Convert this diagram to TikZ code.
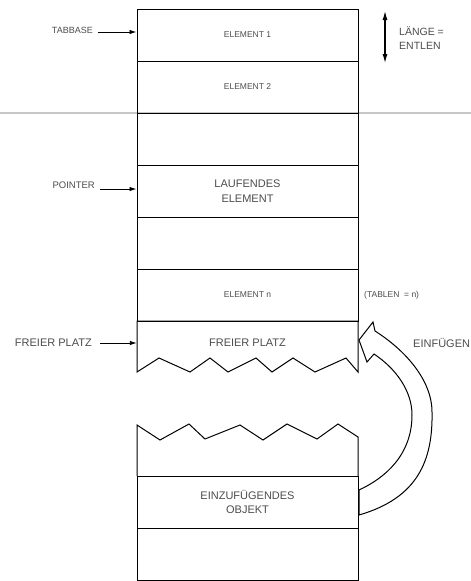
\documentclass[tikz,border=0pt]{standalone}
\usepackage{fontspec}
\setmainfont{Liberation Sans}
\usetikzlibrary{arrows.meta}
\begin{document}
\begin{tikzpicture}[x=1pt,y=-1pt,
  cell/.style={draw, line width=1pt, minimum width=221pt, minimum height=52pt, inner sep=0pt, text=black!70, align=center},
  small/.style={font=\fontsize{8.5}{10}\selectfont},
  big/.style={font=\fontsize{11}{14.5}\selectfont},
  lbl/.style={text=black!70, inner sep=0pt, align=left},
  ptr/.style={-{Latex[length=7pt,width=4.5pt]}, line width=0.9pt},
  outline/.style={line width=1pt, line join=miter}]
\useasboundingbox (0,0) rectangle (471,581);
% scan line
\draw[black!22, line width=2pt] (0,113) -- (471,113);
% table cells
\node[cell, small] (e1) at (247.5,35) {ELEMENT 1};
\node[cell, small] (e2) at (247.5,87) {ELEMENT 2};
\node[cell] (e3) at (247.5,139) {};
\node[cell, big] (cur) at (247.5,191) {LAUFENDES\\ELEMENT};
\node[cell] (e5) at (247.5,243) {};
\node[cell, small] (en) at (247.5,295) {ELEMENT n};
% free place (torn)
\node[lbl, big, minimum width=221pt, minimum height=30pt, align=center] (free) at (247.5,343) {FREIER PLATZ};
\draw[outline] (137,372) -- (137,321) -- (358,321) -- (358,372) -- (346,358) -- (315,372) -- (293,358) -- (272,372) -- (256,358) -- (228,372) -- (210,358) -- (190,372) -- (159,358) -- cycle;
% object to insert
\node[cell, big] (obj) at (247.5,502) {EINZUFÜGENDES\\OBJEKT};
\node[cell] (last) at (247.5,554) {};
\draw[outline] (137,476) -- (137,425) -- (160,440) -- (189,424) -- (205,439) -- (240,425) -- (263,440) -- (287,424) -- (317,439) -- (338,424) -- (358,437) -- (358,476);
% hollow curved arrow
\draw[outline, fill=white] (359,340) -- (373,322) -- (375,331)
  .. controls (405,350) and (432,380) .. (432,412)
  .. controls (433,460) and (418,498) .. (359,515)
  -- (359,490)
  .. controls (385,478) and (412,455) .. (412,415)
  .. controls (412,390) and (395,368) .. (374,354)
  -- (367,362) -- cycle;
% left labels and pointers
\node[lbl, font=\fontsize{9}{10}\selectfont, anchor=east] (tb) at (93,30) {TABBASE};
\draw[ptr] ([xshift=5pt,yshift=-2pt]tb.east) -- ([yshift=-2pt]tb.east -| e1.west);
\node[lbl, font=\fontsize{9.5}{10}\selectfont, anchor=east] (pt) at (95,185) {POINTER};
\draw[ptr] ([xshift=5pt,yshift=-4pt]pt.east) -- ([yshift=-4pt]pt.east -| cur.west);
\node[lbl, big, anchor=east] (fl) at (92,343) {FREIER PLATZ};
\draw[ptr] ([xshift=8pt]fl.east) -- (fl.east -| free.west);
% right labels
\coordinate (lt) at (385,11);
\coordinate (lb) at (385,63);
\draw[{Latex[length=9pt,width=5pt]}-{Latex[length=9pt,width=5pt]}, line width=1.1pt] (lt) -- (lb);
\node[lbl, font=\fontsize{10.5}{14}\selectfont, anchor=west] (lg) at (399,38) {LÄNGE =\\ENTLEN};
\node[lbl, font=\fontsize{8.5}{10}\selectfont, anchor=west] (tl) at (364,295) {(TABLEN \ = n)};
\node[lbl, big, anchor=west] (ins) at (413,343) {EINFÜGEN};
\end{tikzpicture}
\end{document}
